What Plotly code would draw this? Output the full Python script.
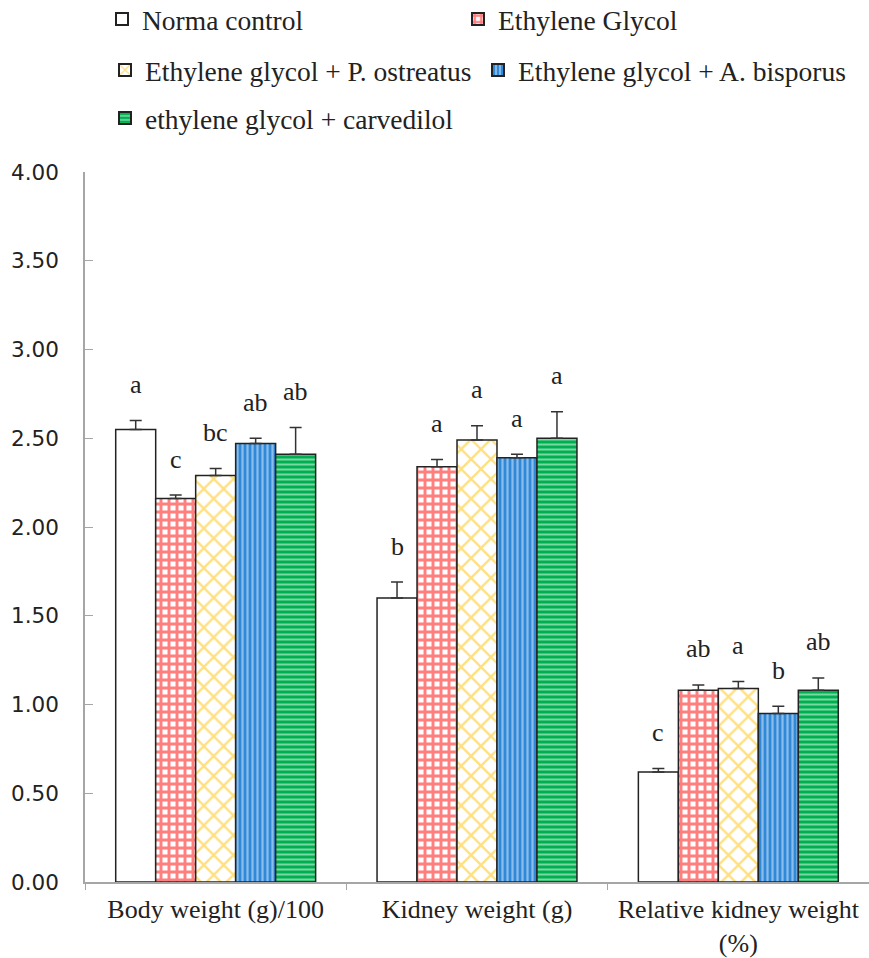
import plotly.graph_objects as go

categories = ["Body weight (g)/100", "Kidney weight (g)", "Relative kidney weight<br>(%)"]

series_names = [
    "Norma control",
    "Ethylene Glycol",
    "Ethylene glycol + P. ostreatus",
    "Ethylene glycol + A. bisporus",
    "ethylene glycol + carvedilol",
]

normal_vals = [2.55, 1.60, 0.62]
eg_vals = [2.16, 2.34, 1.08]
po_vals = [2.29, 2.49, 1.09]
ab_vals = [2.47, 2.39, 0.95]
carv_vals = [2.41, 2.50, 1.08]

normal_err = [0.05, 0.09, 0.02]
eg_err = [0.02, 0.04, 0.03]
po_err = [0.04, 0.08, 0.04]
ab_err = [0.03, 0.02, 0.04]
carv_err = [0.15, 0.15, 0.07]

normal_lbl = ["a", "b", "c"]
eg_lbl = ["c", "a", "ab"]
po_lbl = ["bc", "a", "a"]
ab_lbl = ["ab", "a", "b"]
carv_lbl = ["ab", "a", "ab"]

y_ticks = [0, 0.5, 1.0, 1.5, 2.0, 2.5, 3.0, 3.5, 4.0]

values = [normal_vals, eg_vals, po_vals, ab_vals, carv_vals]
errors = [normal_err, eg_err, po_err, ab_err, carv_err]
labels = [normal_lbl, eg_lbl, po_lbl, ab_lbl, carv_lbl]

patterns = [
    dict(shape="", bgcolor="white"),
    dict(shape="+", fgcolor="#FF0000", bgcolor="white", size=8, solidity=0.6),
    dict(shape="x", fgcolor="#FFC000", bgcolor="white", size=14, solidity=0.3),
    dict(shape="|", fgcolor="#E6F2FC", bgcolor="#2F88D8", size=5, solidity=0.45),
    dict(shape="-", fgcolor="#F2FFF6", bgcolor="#00B050", size=5, solidity=0.4),
]
fills = ["white", "white", "white", "#2F88D8", "#00B050"]

W, H = 869, 958
legend_pos = [(142, 19), (498, 19), (145, 70), (518, 70), (145, 118)]
legend_ids = ["legend", "legend2", "legend3", "legend4", "legend5"]

serif = "Liberation Serif, Times New Roman, serif"

fig = go.Figure()
for i in range(5):
    fig.add_trace(go.Bar(
        x=categories, y=values[i], name=series_names[i],
        marker=dict(color=fills[i], pattern=patterns[i],
                    line=dict(color="#222222", width=1.5)),
        error_y=dict(type="data", symmetric=False, array=errors[i],
                     arrayminus=[0] * len(errors[i]),
                     color="#333333", thickness=1.5, width=6),
        legend=legend_ids[i],
    ))

# significance letters above the error bars
n = len(series_names)
for i in range(n):
    for j, cat in enumerate(categories):
        fig.add_annotation(
            x=j, y=values[i][j] + errors[i][j], xref="x", yref="y",
            text=labels[i][j], showarrow=False, yanchor="middle",
            xshift=(i - 2) * 40.0, yshift=36,
            font=dict(family=serif, size=26, color="#222222"),
        )

layout_legends = {}
for k, (tx, ty) in enumerate(legend_pos):
    key = "legend" if k == 0 else "legend%d" % (k + 1)
    layout_legends[key] = dict(
        x=(tx - 40) / W, y=1 - ty / H, xref="container", yref="container",
        xanchor="left", yanchor="middle", orientation="h",
        bgcolor="rgba(0,0,0,0)", borderwidth=0,
        font=dict(family=serif, size=27.5, color="#222222"),
        itemsizing="constant",
    )

fig.update_layout(
    width=W, height=H,
    margin=dict(l=85, r=0, t=172, b=74),
    paper_bgcolor="white", plot_bgcolor="white",
    barmode="group", bargap=0.235, bargroupgap=0,
    showlegend=True,
    xaxis=dict(
        type="category", showline=True, linecolor="#A6A6A6", linewidth=1.5,
        ticks="outside", tickson="boundaries", ticklen=6, tickcolor="#A6A6A6",
        tickfont=dict(family=serif, size=26, color="#222222"),
        ticklabelstandoff=3,
        showgrid=False, zeroline=False,
    ),
    yaxis=dict(
        range=[0, 4], tickvals=y_ticks, tickformat=".2f",
        showline=True, linecolor="#A6A6A6", linewidth=1.5,
        ticks="inside", ticklen=8, tickcolor="#A6A6A6",
        tickfont=dict(family="DejaVu Sans, Verdana, sans-serif", size=21.5, color="#222222"),
        ticklabelstandoff=20,
        showgrid=False, zeroline=False,
    ),
    **layout_legends,
)

fig.write_html("out.html")
